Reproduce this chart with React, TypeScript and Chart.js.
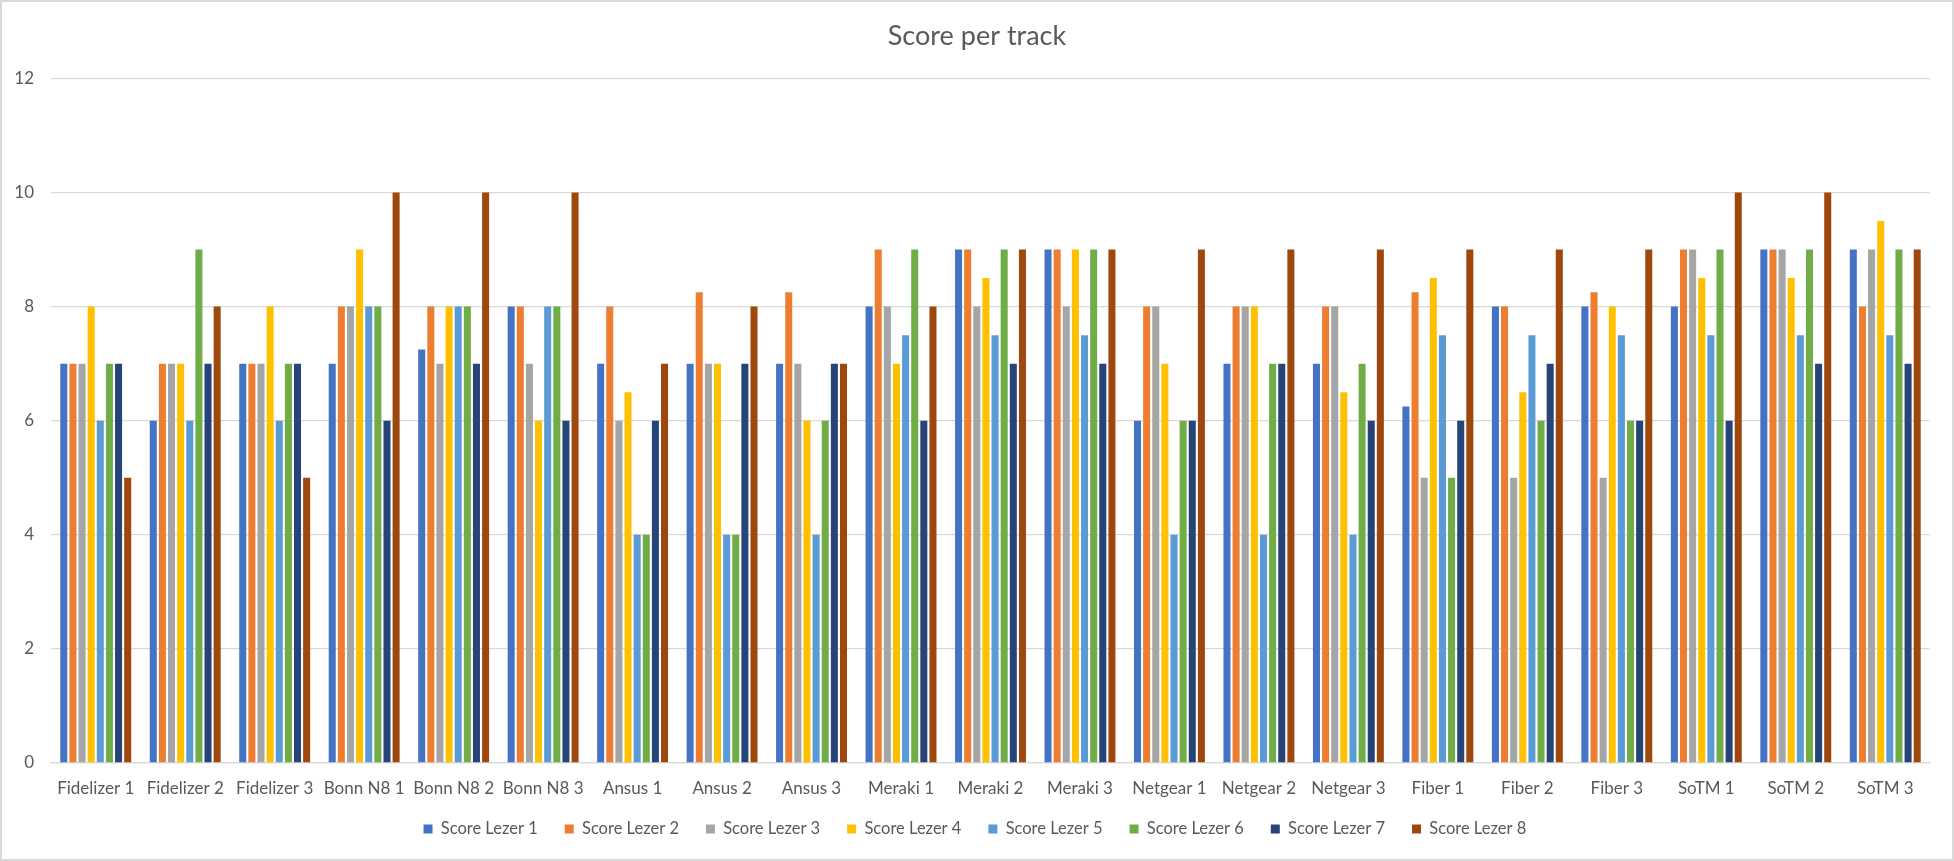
import { useEffect, useRef } from "react";
import Chart from "chart.js/auto";

const tracks = [
	"Fidelizer 1", "Fidelizer 2", "Fidelizer 3",
	"Bonn N8 1", "Bonn N8 2", "Bonn N8 3",
	"Ansus 1", "Ansus 2", "Ansus 3",
	"Meraki 1", "Meraki 2", "Meraki 3",
	"Netgear 1", "Netgear 2", "Netgear 3",
	"Fiber 1", "Fiber 2", "Fiber 3",
	"SoTM 1", "SoTM 2", "SoTM 3",
];

const lezer1 = [7, 6, 7, 7, 7.25, 8, 7, 7, 7, 8, 9, 9, 6, 7, 7, 6.25, 8, 8, 8, 9, 9];
const lezer2 = [7, 7, 7, 8, 8, 8, 8, 8.25, 8.25, 9, 9, 9, 8, 8, 8, 8.25, 8, 8.25, 9, 9, 8];
const lezer3 = [7, 7, 7, 8, 7, 7, 6, 7, 7, 8, 8, 8, 8, 8, 8, 5, 5, 5, 9, 9, 9];
const lezer4 = [8, 7, 8, 9, 8, 6, 6.5, 7, 6, 7, 8.5, 9, 7, 8, 6.5, 8.5, 6.5, 8, 8.5, 8.5, 9.5];
const lezer5 = [6, 6, 6, 8, 8, 8, 4, 4, 4, 7.5, 7.5, 7.5, 4, 4, 4, 7.5, 7.5, 7.5, 7.5, 7.5, 7.5];
const lezer6 = [7, 9, 7, 8, 8, 8, 4, 4, 6, 9, 9, 9, 6, 7, 7, 5, 6, 6, 9, 9, 9];
const lezer7 = [7, 7, 7, 6, 7, 6, 6, 7, 7, 6, 7, 7, 6, 7, 6, 6, 7, 6, 6, 7, 7];
const lezer8 = [5, 8, 5, 10, 10, 10, 7, 8, 7, 8, 9, 9, 9, 9, 9, 9, 9, 9, 10, 10, 9];

const seriesNames = [
	"Score Lezer 1", "Score Lezer 2", "Score Lezer 3", "Score Lezer 4",
	"Score Lezer 5", "Score Lezer 6", "Score Lezer 7", "Score Lezer 8",
];
const seriesColors = [
	"#4472C4", "#ED7D31", "#A5A5A5", "#FFC000",
	"#5B9BD5", "#70AD47", "#264478", "#9E480E",
];

const FONT = "Lato";
const TEXT = "#595959";
const GRID = "#D9D9D9";

const ScoreChart = () => {
	const chartRef = useRef<HTMLCanvasElement | null>(null);

	useEffect(() => {
		const ctx = chartRef.current.getContext("2d");
		const values = [lezer1, lezer2, lezer3, lezer4, lezer5, lezer6, lezer7, lezer8];

		const myChart = new Chart(ctx, {
			type: "bar",
			data: {
				labels: tracks,
				datasets: values.map((data, i) => ({
					label: seriesNames[i],
					data,
					backgroundColor: seriesColors[i],
					borderWidth: 0,
					categoryPercentage: 0.816,
					barPercentage: 0.77,
				})),
			},
			options: {
				responsive: false,
				animation: false,
				layout: { padding: { left: 0, right: 0, top: 0, bottom: 11.75 } },
				plugins: {
					tooltip: { enabled: false },
					title: {
						display: true,
						text: "Score per track",
						color: TEXT,
						font: { family: FONT, size: 27, weight: "normal" },
						padding: { top: 18, bottom: 26 },
					},
					legend: {
						position: "bottom",
						labels: {
							color: TEXT,
							font: { family: FONT, size: 16.5 },
							boxWidth: 9,
							boxHeight: 9,
							padding: 22.75,
							// a trailing space widens each item like the Excel legend
							generateLabels: (chart) =>
								Chart.defaults.plugins.legend.labels
									.generateLabels(chart)
									.map((item) => ({ ...item, text: item.text + " " })),
						},
					},
				},
				scales: {
					x: {
						grid: { display: false, drawTicks: false },
						border: { display: true, color: GRID, width: 1.3 },
						ticks: {
							color: TEXT,
							font: { family: FONT, size: 17, lineHeight: 0.5 },
							padding: 21,
							maxRotation: 0,
							autoSkip: false,
						},
						afterFit: (axis) => {
							axis.height = 35;
						},
					},
					y: {
						min: 0,
						max: 12,
						grid: { color: GRID, lineWidth: 1.3, drawTicks: false },
						border: { display: false },
						ticks: {
							stepSize: 2,
							color: TEXT,
							font: { family: FONT, size: 17 },
							padding: 17,
						},
						afterFit: (axis) => {
							axis.width = 49;
						},
					},
					// empty right-hand margin so title and legend stay centred on the whole chart
					yRight: {
						type: "linear",
						position: "right",
						grid: { display: false, drawTicks: false },
						border: { display: false },
						ticks: { display: false },
						afterFit: (axis) => {
							axis.width = 22;
						},
					},
				},
			},
		});

		return () => {
			myChart.destroy();
		};
	}, []);

	return (
		<div
			style={{
				position: "fixed",
				left: 0,
				top: 0,
				width: 1954,
				height: 861,
				boxSizing: "border-box",
				border: `2px solid ${GRID}`,
				background: "#fff",
			}}
		>
			<canvas ref={chartRef} width={1950} height={857} style={{ display: "block", width: 1950, height: 857 }} />
		</div>
	);
};

export default function App() {
	return <ScoreChart />;
}
